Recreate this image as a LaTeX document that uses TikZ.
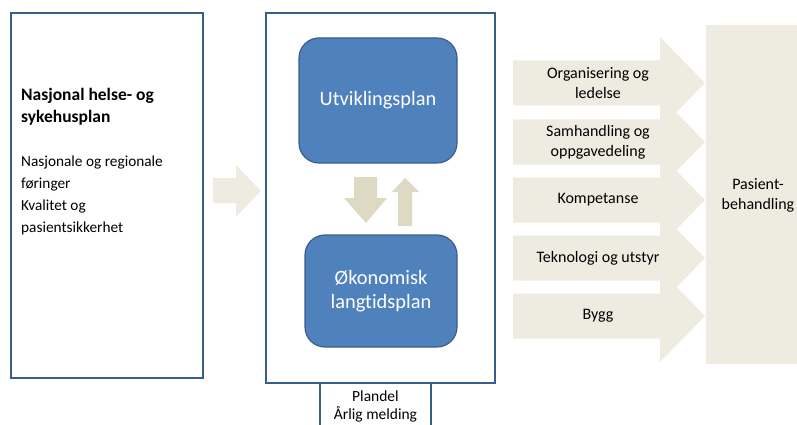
\documentclass[tikz,border=0pt]{standalone}
\usepackage{fontspec}
\setmainfont{Carlito}[Ligatures=NoCommon]

\definecolor{rammeblaa}{HTML}{3A5E8C}
\definecolor{planblaa}{HTML}{4F81BD}
\definecolor{plankant}{HTML}{385D8A}
\definecolor{lysbeige}{HTML}{EEECE1}
\definecolor{moerkbeige}{HTML}{DDD9C3}

\begin{document}
\begin{tikzpicture}[x=1pt, y=-1pt]
  % mål (i px fra bildet)
  \def\pil{22.5}   % halv bredde på pilskaftet
  \def\hode{46}    % halv bredde på pilhodet
  \useasboundingbox (0,0) rectangle (797,425);
  % venstre ramme
  \node[draw=rammeblaa, line width=1.5pt, minimum width=192pt, minimum height=365pt, inner sep=0] (nasjonal) at (107,195.5) {};
  \node[anchor=north west, align=left, inner sep=0, font=\fontsize{15.3}{22}\selectfont] (foringer) at (21,88)
    {{\fontsize{17.5}{22}\selectfont\bfseries Nasjonal helse- og}\\{\fontsize{17.5}{22}\selectfont\bfseries sykehusplan}\\[22pt]Nasjonale og regionale\\føringer\\Kvalitet og\\pasientsikkerhet};
  % stor pil mot planene
  \fill[lysbeige] (213,178) -- (236,178) -- (236,165) -- (261,191) -- (236,217) -- (236,203) -- (213,203) -- cycle;
  % midtre ramme med planene
  \node[draw=rammeblaa, line width=1.2pt, minimum width=229pt, minimum height=370pt, inner sep=0] (plan) at (380.5,198) {};
  \draw[rammeblaa, line width=1.2pt] (320,425) -- (320,383) (431,383) -- (431,425);
  \node[align=center, font=\fontsize{15.5}{18}\selectfont] (plandel) at (375.5,406) {Plandel\\Årlig melding};
  \node[draw=plankant, fill=planblaa, line width=1.2pt, rounded corners=20pt, minimum width=158pt, minimum height=125pt,
        text=white, font=\fontsize{20.4}{24}\selectfont] (utvikling) at (378,100.5) {Utviklingsplan};
  \node[draw=plankant, fill=planblaa, line width=1.2pt, rounded corners=20pt, minimum width=152pt, minimum height=112pt,
        text=white, align=center, font=\fontsize{20.4}{24}\selectfont] (okonomi) at (381,291) {Økonomisk\\langtidsplan};
  % små piler mellom planene
  \fill[moerkbeige] (354,177) -- (377,177) -- (377,198) -- (387,198) -- (366,223) -- (344,198) -- (354,198) -- cycle;
  \fill[moerkbeige] (398,226) -- (398,192) -- (392,192) -- (405,178) -- (419,192) -- (412,192) -- (412,226) -- cycle;
  % innsatsområder
  \foreach \y/\tekst [count=\i] in {83/{Organisering og\\ledelse}, 142/{Samhandling og\\oppgavedeling},
      200/Kompetanse, 258/Teknologi og utstyr, 316/Bygg}{
    \fill[lysbeige] (513,\y-\pil) -- (660,\y-\pil) -- (660,\y-\hode) -- (705,\y) -- (660,\y+\hode)
      -- (660,\y+\pil) -- (513,\y+\pil) -- cycle;
    \node[align=center, font=\fontsize{16}{20}\selectfont] (omrade\i) at (598,\y) {\tekst};
  }
  % pasientbehandling
  \node[fill=lysbeige, minimum width=92pt, minimum height=339pt, inner sep=0] (pasient) at (752,194.5) {};
  \node[align=center, font=\fontsize{16}{20}\selectfont] (behandling) at (758,195) {Pasient-\\behandling};
\end{tikzpicture}
\end{document}
